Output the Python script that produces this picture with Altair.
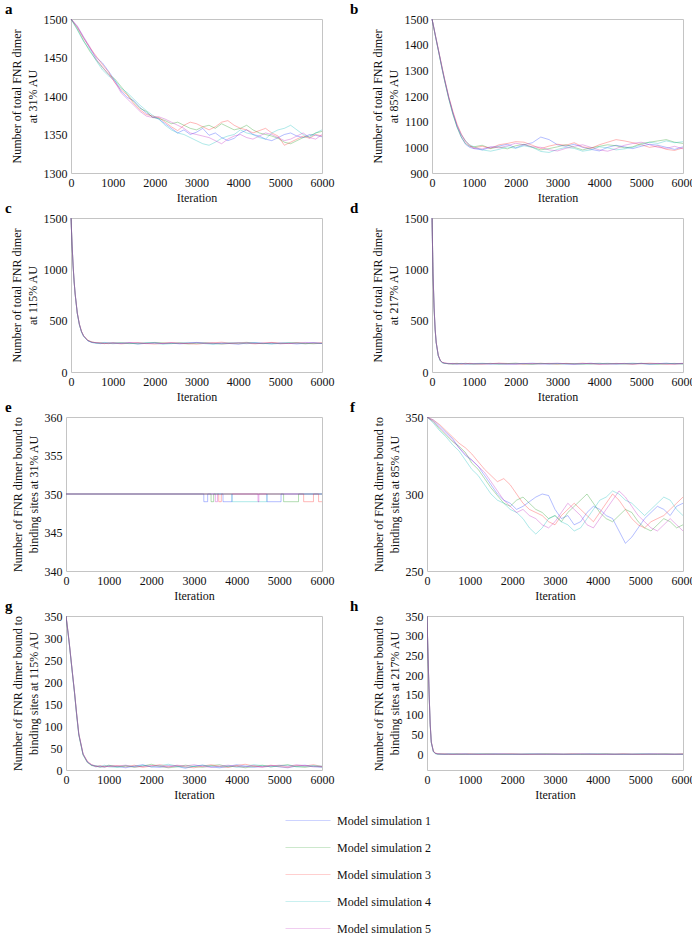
import altair as alt
import pandas as pd

SERIF = "Liberation Serif"
FRAME = "#c4c4c4"

SIMS = [
    "Model simulation 1",
    "Model simulation 2",
    "Model simulation 3",
    "Model simulation 4",
    "Model simulation 5",
]
COLORS = ["#1f3cff", "#1a9a1a", "#ff2a2a", "#10bcbc", "#c020c0"]

X_TICKS = [0, 1000, 2000, 3000, 4000, 5000, 6000]

# sampling grids (iteration numbers)
ITER_SLOW = [0, 150, 300, 450, 600, 750, 900, 1050, 1200, 1350, 1500, 1650, 1800, 1950,
             2100, 2250, 2400, 2550, 2700, 2850, 3000, 3150, 3300, 3450, 3600, 3750, 3900,
             4050, 4200, 4350, 4500, 4650, 4800, 4950, 5100, 5250, 5400, 5550, 5700, 5850, 6000]
ITER_FAST = [0, 25, 50, 75, 100, 150, 200, 250, 300, 400, 500, 600, 700, 800, 900, 1000,
             1200, 1400, 1600, 1800, 2000, 2200, 2400, 2600, 2800, 3000, 3200, 3400, 3600,
             3800, 4000, 4200, 4400, 4600, 4800, 5000, 5200, 5400, 5600, 5800, 6000]

# (a) total FNR dimer, 31% AU
A1 = [1500, 1490, 1476, 1462, 1450, 1443, 1432, 1420, 1406, 1398, 1394, 1385, 1378, 1373, 1370, 1364, 1358, 1352, 1356, 1350,
      1353, 1358, 1349, 1352, 1346, 1342, 1345, 1352, 1356, 1350, 1348, 1344, 1342, 1346, 1350, 1352, 1348, 1346, 1350, 1349, 1347]
A2 = [1500, 1487, 1472, 1458, 1447, 1437, 1428, 1422, 1412, 1402, 1392, 1384, 1380, 1372, 1371, 1368, 1364, 1366, 1362, 1358,
      1356, 1360, 1362, 1358, 1364, 1360, 1356, 1358, 1362, 1356, 1352, 1350, 1348, 1345, 1340, 1338, 1342, 1346, 1348, 1352, 1354]
A3 = [1500, 1489, 1475, 1463, 1452, 1441, 1431, 1417, 1408, 1401, 1390, 1382, 1376, 1374, 1372, 1366, 1360, 1355, 1362, 1366,
      1364, 1360, 1356, 1360, 1366, 1368, 1362, 1358, 1356, 1352, 1355, 1358, 1352, 1348, 1336, 1340, 1344, 1348, 1345, 1350, 1348]
A4 = [1500, 1486, 1471, 1460, 1446, 1434, 1426, 1420, 1410, 1404, 1396, 1388, 1381, 1375, 1370, 1362, 1356, 1352, 1350, 1346,
      1342, 1338, 1336, 1340, 1345, 1348, 1350, 1356, 1352, 1350, 1346, 1344, 1352, 1356, 1358, 1362, 1356, 1350, 1346, 1352, 1356]
A5 = [1500, 1491, 1477, 1464, 1448, 1438, 1428, 1418, 1404, 1396, 1388, 1380, 1374, 1372, 1373, 1370, 1366, 1362, 1358, 1352,
      1350, 1348, 1346, 1342, 1338, 1344, 1348, 1350, 1346, 1344, 1348, 1352, 1350, 1346, 1342, 1344, 1348, 1352, 1346, 1344, 1350]

# (b) total FNR dimer, 85% AU
B1 = [1500, 1481, 1461, 1441, 1421, 1381, 1342, 1302, 1265, 1195, 1135, 1080, 1040, 1012, 1000, 995,
      990, 1000, 1005, 1012, 998, 1010, 1018, 1040, 1030, 1010, 1004, 1012, 1000, 992, 986, 1000, 1008, 1002, 995, 1004, 1012, 1008, 1000, 992, 1002]
B2 = [1500, 1479, 1459, 1438, 1418, 1378, 1338, 1298, 1260, 1190, 1128, 1078, 1040, 1015, 1004, 1002,
      1008, 995, 1002, 994, 1006, 1012, 1000, 990, 995, 1002, 1010, 1000, 990, 998, 1004, 1010, 1006, 998, 1002, 1015, 1020, 1025, 1030, 1020, 1015]
B3 = [1500, 1482, 1462, 1442, 1423, 1383, 1345, 1306, 1268, 1198, 1140, 1090, 1052, 1025, 1008, 998,
      1004, 996, 1010, 1015, 1022, 1020, 1008, 995, 1005, 1012, 1008, 1018, 1002, 996, 1010, 1020, 1030, 1025, 1018, 1010, 1000, 1005, 992, 988, 998]
B4 = [1500, 1480, 1460, 1439, 1419, 1379, 1339, 1299, 1261, 1190, 1130, 1082, 1048, 1026, 1010, 1002,
      990, 985, 992, 1002, 996, 1006, 1000, 984, 980, 992, 1000, 996, 985, 990, 1002, 998, 990, 994, 1000, 1010, 1020, 1015, 1025, 1018, 1022]
B5 = [1500, 1481, 1461, 1440, 1420, 1382, 1341, 1301, 1263, 1194, 1134, 1086, 1050, 1022, 1005, 996,
      994, 1002, 998, 1006, 1016, 1010, 1002, 1000, 990, 986, 996, 1004, 1010, 1000, 990, 985, 995, 1008, 1015, 1020, 1010, 1000, 996, 1004, 994]

# (c) total FNR dimer, 115% AU
C1 = [1500, 1245, 1038, 880, 758, 575, 465, 395, 352, 305, 288, 282, 276, 284, 279, 286,
      278, 284, 272, 280, 286, 276, 282, 274, 279, 288, 281, 275, 283, 277, 270, 282, 287, 279, 276, 284, 280, 273, 281, 285, 278]
C2 = [1500, 1243, 1035, 876, 755, 572, 462, 392, 350, 308, 291, 285, 280, 277, 283, 281,
      286, 279, 275, 282, 288, 284, 277, 281, 273, 280, 285, 279, 272, 278, 284, 289, 280, 276, 282, 277, 283, 286, 279, 275, 281]
C3 = [1500, 1246, 1040, 882, 760, 578, 468, 398, 355, 310, 293, 284, 286, 280, 276, 283,
      274, 281, 287, 278, 272, 280, 286, 283, 277, 271, 279, 284, 290, 282, 276, 280, 274, 282, 288, 281, 277, 283, 276, 280, 284]
C4 = [1500, 1242, 1034, 877, 754, 570, 460, 390, 348, 304, 287, 280, 283, 288, 281, 275,
      282, 276, 280, 285, 279, 271, 276, 284, 288, 283, 276, 270, 278, 285, 281, 275, 283, 279, 272, 279, 285, 280, 274, 282, 277]
C5 = [1500, 1244, 1037, 879, 757, 574, 464, 394, 351, 306, 289, 287, 281, 276, 284, 279,
      280, 287, 283, 276, 281, 278, 284, 277, 282, 286, 280, 283, 275, 279, 287, 284, 277, 281, 285, 274, 279, 282, 288, 284, 279]

# (d) total FNR dimer, 217% AU
D1 = [1500, 958, 624, 416, 288, 160, 110, 92, 86, 80, 84, 78, 82, 76, 83, 79,
      81, 77, 84, 79, 75, 82, 86, 80, 77, 83, 79, 74, 81, 85, 78, 80, 76, 83, 79, 84, 77, 81, 86, 79, 82]
D2 = [1500, 955, 620, 412, 285, 158, 108, 90, 84, 82, 78, 83, 79, 85, 80, 76,
      80, 84, 78, 82, 86, 79, 75, 81, 84, 78, 83, 80, 76, 82, 85, 79, 83, 77, 80, 85, 81, 76, 80, 84, 78]
D3 = [1500, 960, 627, 419, 291, 163, 112, 94, 88, 79, 81, 85, 77, 80, 84, 82,
      78, 81, 86, 83, 79, 76, 82, 85, 80, 77, 84, 81, 86, 79, 75, 82, 80, 84, 77, 81, 86, 82, 78, 76, 83]
D4 = [1500, 956, 622, 414, 286, 157, 107, 91, 83, 81, 77, 80, 84, 79, 76, 82,
      85, 80, 76, 79, 83, 81, 78, 84, 79, 82, 77, 83, 80, 76, 81, 85, 79, 82, 86, 80, 76, 79, 83, 81, 80]
D5 = [1500, 959, 626, 418, 290, 161, 111, 93, 87, 84, 80, 76, 81, 83, 78, 80,
      79, 82, 80, 76, 81, 84, 80, 78, 83, 86, 80, 77, 82, 84, 79, 76, 84, 80, 78, 83, 79, 84, 77, 80, 85]

# (e) dimer bound to binding sites, 31% AU: step changes between 350 and 349
E_ITER = [
    [0, 3230, 3320, 3680, 3890, 4710, 5040, 6000],
    [0, 3400, 3460, 5100, 5450, 6000],
    [0, 3580, 3640, 5570, 5800, 5920, 6000],
    [0, 3890, 4710, 6000],
    [0, 3500, 3550, 4500, 4520, 6000],
]
E_VAL = [
    [350, 349, 350, 349, 350, 349, 350, 350],
    [350, 349, 350, 349, 350, 350],
    [350, 349, 350, 349, 350, 349, 349],
    [350, 349, 350, 350],
    [350, 349, 350, 349, 350, 350],
]

# (f) dimer bound to binding sites, 85% AU
F1 = [350, 348, 344, 340, 336, 330, 325, 322, 318, 312, 306, 300, 296, 294, 290, 292, 295, 298, 300, 299,
      290, 284, 286, 280, 282, 288, 292, 290, 286, 284, 276, 268, 272, 278, 284, 288, 292, 290, 286, 292, 294]
F2 = [350, 347, 342, 338, 334, 331, 327, 320, 316, 310, 304, 299, 294, 292, 296, 298, 294, 290, 288, 284,
      286, 282, 288, 292, 296, 300, 294, 288, 284, 282, 286, 290, 288, 282, 278, 276, 280, 284, 282, 278, 280]
F3 = [350, 348, 345, 341, 337, 333, 330, 326, 321, 316, 312, 308, 310, 306, 300, 294, 290, 288, 286, 282,
      280, 286, 290, 294, 290, 286, 282, 288, 294, 300, 296, 290, 284, 280, 278, 282, 284, 286, 290, 294, 298]
F4 = [350, 346, 341, 337, 332, 328, 322, 316, 312, 306, 300, 296, 294, 290, 288, 284, 278, 274, 278, 284,
      286, 282, 280, 276, 278, 284, 290, 296, 298, 302, 300, 296, 294, 290, 286, 290, 294, 298, 296, 290, 286]
F5 = [350, 347, 343, 339, 335, 330, 326, 322, 318, 314, 308, 302, 296, 292, 288, 290, 286, 284, 280, 278,
      282, 288, 294, 290, 286, 280, 278, 284, 290, 296, 302, 298, 292, 286, 282, 278, 276, 280, 284, 280, 276]

# (g) dimer bound to binding sites, 115% AU
G1 = [350, 331, 311, 290, 267, 221, 176, 127, 82, 36, 19, 11, 7, 9, 6, 10,
      8, 5, 9, 12, 7, 6, 10, 8, 4, 9, 11, 7, 5, 8, 12, 9, 6, 8, 10, 7, 5, 9, 11, 8, 6]
G2 = [350, 329, 309, 288, 265, 219, 174, 124, 79, 34, 17, 10, 9, 6, 8, 11,
      7, 10, 6, 9, 13, 8, 5, 7, 11, 8, 6, 10, 12, 7, 9, 5, 8, 11, 7, 10, 12, 8, 6, 9, 7]
G3 = [350, 332, 312, 291, 268, 222, 177, 128, 83, 37, 20, 12, 8, 10, 7, 8,
      10, 7, 11, 6, 9, 12, 8, 10, 7, 5, 9, 12, 8, 6, 10, 13, 9, 7, 11, 8, 6, 10, 9, 12, 8]
G4 = [350, 330, 310, 289, 266, 220, 175, 125, 80, 35, 18, 11, 10, 8, 11, 7,
      6, 9, 8, 11, 7, 10, 13, 9, 6, 8, 11, 9, 7, 10, 6, 8, 12, 10, 7, 9, 11, 7, 8, 10, 9]
G5 = [350, 331, 310, 289, 266, 221, 176, 126, 81, 36, 18, 12, 9, 7, 9, 8,
      9, 11, 7, 8, 10, 9, 6, 11, 9, 12, 8, 6, 9, 11, 8, 7, 10, 6, 9, 11, 8, 12, 10, 7, 8]

# (h) dimer bound to binding sites, 217% AU
H1 = [350, 246, 152, 76, 31, 7, 2, 1, 0, 0, 1, 0, 0, 0, 1, 0,
      0, 0, 1, 0, 0, 0, 0, 1, 0, 0, 0, 0, 0, 1, 0, 0, 0, 0, 0, 0, 1, 0, 0, 0, 0]
H2 = [350, 244, 150, 74, 29, 6, 2, 0, 1, 0, 0, 0, 1, 0, 0, 0,
      0, 1, 0, 0, 0, 0, 0, 0, 1, 0, 0, 0, 0, 0, 0, 1, 0, 0, 0, 0, 0, 0, 1, 0, 0]
H3 = [350, 247, 153, 77, 32, 8, 3, 1, 0, 1, 0, 0, 0, 0, 0, 1,
      0, 0, 0, 0, 1, 0, 0, 0, 0, 0, 0, 1, 0, 0, 0, 0, 0, 1, 0, 0, 0, 0, 0, 0, 1]
H4 = [350, 245, 151, 75, 30, 6, 1, 0, 0, 0, 0, 1, 0, 0, 0, 0,
      1, 0, 0, 0, 0, 0, 1, 0, 0, 0, 0, 0, 0, 0, 1, 0, 0, 0, 0, 1, 0, 0, 0, 0, 0]
H5 = [350, 246, 151, 75, 30, 7, 2, 1, 1, 0, 0, 0, 0, 1, 0, 0,
      0, 0, 0, 1, 0, 0, 0, 0, 0, 1, 0, 0, 1, 0, 0, 0, 0, 0, 0, 0, 0, 1, 0, 0, 0]

TOTAL_TITLE = "Number of total FNR dimer"
BOUND_TITLE = "Number of FNR dimer bound to"

# every cell is PANEL_W wide; the upper panels leave a narrow inset on the left
PANEL_W = 256
PANEL_H = 154
UPPER_INSET = 5


def long_frame(iter_lists, value_lists):
    rows = []
    for name, its, vals in zip(SIMS, iter_lists, value_lists):
        assert len(its) == len(vals), (name, len(its), len(vals))
        rows += [{"iteration": i, "count": v, "sim": name} for i, v in zip(its, vals)]
    return pd.DataFrame(rows)


def shared_grid(iters, series):
    return long_frame([iters] * len(series), series)


LEGEND = alt.Legend(
    orient="none",
    legendX=219,
    legendY=795,
    title=None,
    symbolType="stroke",
    symbolSize=2025,
    symbolStrokeWidth=1,
    symbolOpacity=0.22,
    clipHeight=13,
    labelFont=SERIF,
    labelFontSize=12,
    labelColor="#111111",
    labelOffset=6,
    rowPadding=14,
    padding=0,
)


def panel(df, letter, ytitle, ydomain, yticks, inset=0, interp="linear"):
    xscale = alt.Scale(domain=[0, 6000], range=[inset, PANEL_W], nice=False, zero=False)
    yscale = alt.Scale(domain=ydomain, nice=False, zero=False)
    lines = (
        alt.Chart(df)
        .mark_line(strokeWidth=0.8, opacity=0.42, interpolate=interp, clip=True)
        .encode(
            x=alt.X("iteration:Q", scale=xscale,
                    axis=alt.Axis(values=X_TICKS, title="Iteration", format="d", labelFlush=False)),
            y=alt.Y("count:Q", scale=yscale,
                    axis=alt.Axis(values=yticks, title=ytitle, format="d", offset=-inset)),
            color=alt.Color("sim:N", scale=alt.Scale(domain=SIMS, range=COLORS), legend=LEGEND),
        )
    )
    # top and right edges of the box
    box = (
        alt.Chart(df)
        .mark_line(opacity=0)
        .encode(
            x=alt.X("iteration:Q", scale=xscale,
                    axis=alt.Axis(orient="top", labels=False, title=None, values=X_TICKS)),
            y=alt.Y("count:Q", scale=yscale,
                    axis=alt.Axis(orient="right", labels=False, title=None, values=yticks)),
        )
    )
    return (
        alt.layer(lines, box)
        .resolve_axis(x="independent", y="independent")
        .properties(
            width=PANEL_W,
            height=PANEL_H,
            title=alt.TitleParams(letter, anchor="start", frame="group",
                                  dx=-61 if letter in "aceg" else -77, dy=10, offset=6),
        )
    )


pa = panel(shared_grid(ITER_SLOW, [A1, A2, A3, A4, A5]), "a", [TOTAL_TITLE, "at 31% AU"],
           [1300, 1500], [1300, 1350, 1400, 1450, 1500], UPPER_INSET)
pb = panel(shared_grid(ITER_FAST, [B1, B2, B3, B4, B5]), "b", [TOTAL_TITLE, "at 85% AU"],
           [900, 1500], [900, 1000, 1100, 1200, 1300, 1400, 1500], UPPER_INSET)
pc = panel(shared_grid(ITER_FAST, [C1, C2, C3, C4, C5]), "c", [TOTAL_TITLE, "at 115% AU"],
           [0, 1500], [0, 500, 1000, 1500], UPPER_INSET)
pd_ = panel(shared_grid(ITER_FAST, [D1, D2, D3, D4, D5]), "d", [TOTAL_TITLE, "at 217% AU"],
            [0, 1500], [0, 500, 1000, 1500], UPPER_INSET)
pe = panel(long_frame(E_ITER, E_VAL), "e", [BOUND_TITLE, "binding sites at 31% AU"],
           [340, 360], [340, 345, 350, 355, 360], interp="step-after")
pf = panel(shared_grid(ITER_SLOW, [F1, F2, F3, F4, F5]), "f", [BOUND_TITLE, "binding sites at 85% AU"],
           [250, 350], [250, 300, 350])
pg = panel(shared_grid(ITER_FAST, [G1, G2, G3, G4, G5]), "g", [BOUND_TITLE, "binding sites at 115% AU"],
           [0, 350], [0, 50, 100, 150, 200, 250, 300, 350])
ph = panel(shared_grid(ITER_FAST, [H1, H2, H3, H4, H5]), "h", [BOUND_TITLE, "binding sites at 217% AU"],
           [-40, 350], [0, 50, 100, 150, 200, 250, 300, 350])

chart = (
    alt.concat(pa, pb, pc, pd_, pe, pf, pg, ph, columns=2,
               spacing=alt.RowColnumber(column=105, row=45), bounds="flush")
    .properties(padding={"left": 5, "top": 2, "right": -3, "bottom": 0}, background="white")
    .configure_view(stroke="transparent", strokeWidth=0)
    .configure_axis(
        grid=False,
        ticks=False,
        domainColor=FRAME,
        domainWidth=1,
        labelFont=SERIF,
        labelFontSize=12,
        labelColor="#111111",
        labelPadding=4,
        titleFont=SERIF,
        titleFontSize=12,
        titleFontWeight="normal",
        titleColor="#111111",
        titleLineHeight=16,
    )
    .configure_title(font=SERIF, fontSize=15, fontWeight="bold", color="#000000")
)

chart.save("out.html", embed_options={"renderer": "svg", "actions": False})
